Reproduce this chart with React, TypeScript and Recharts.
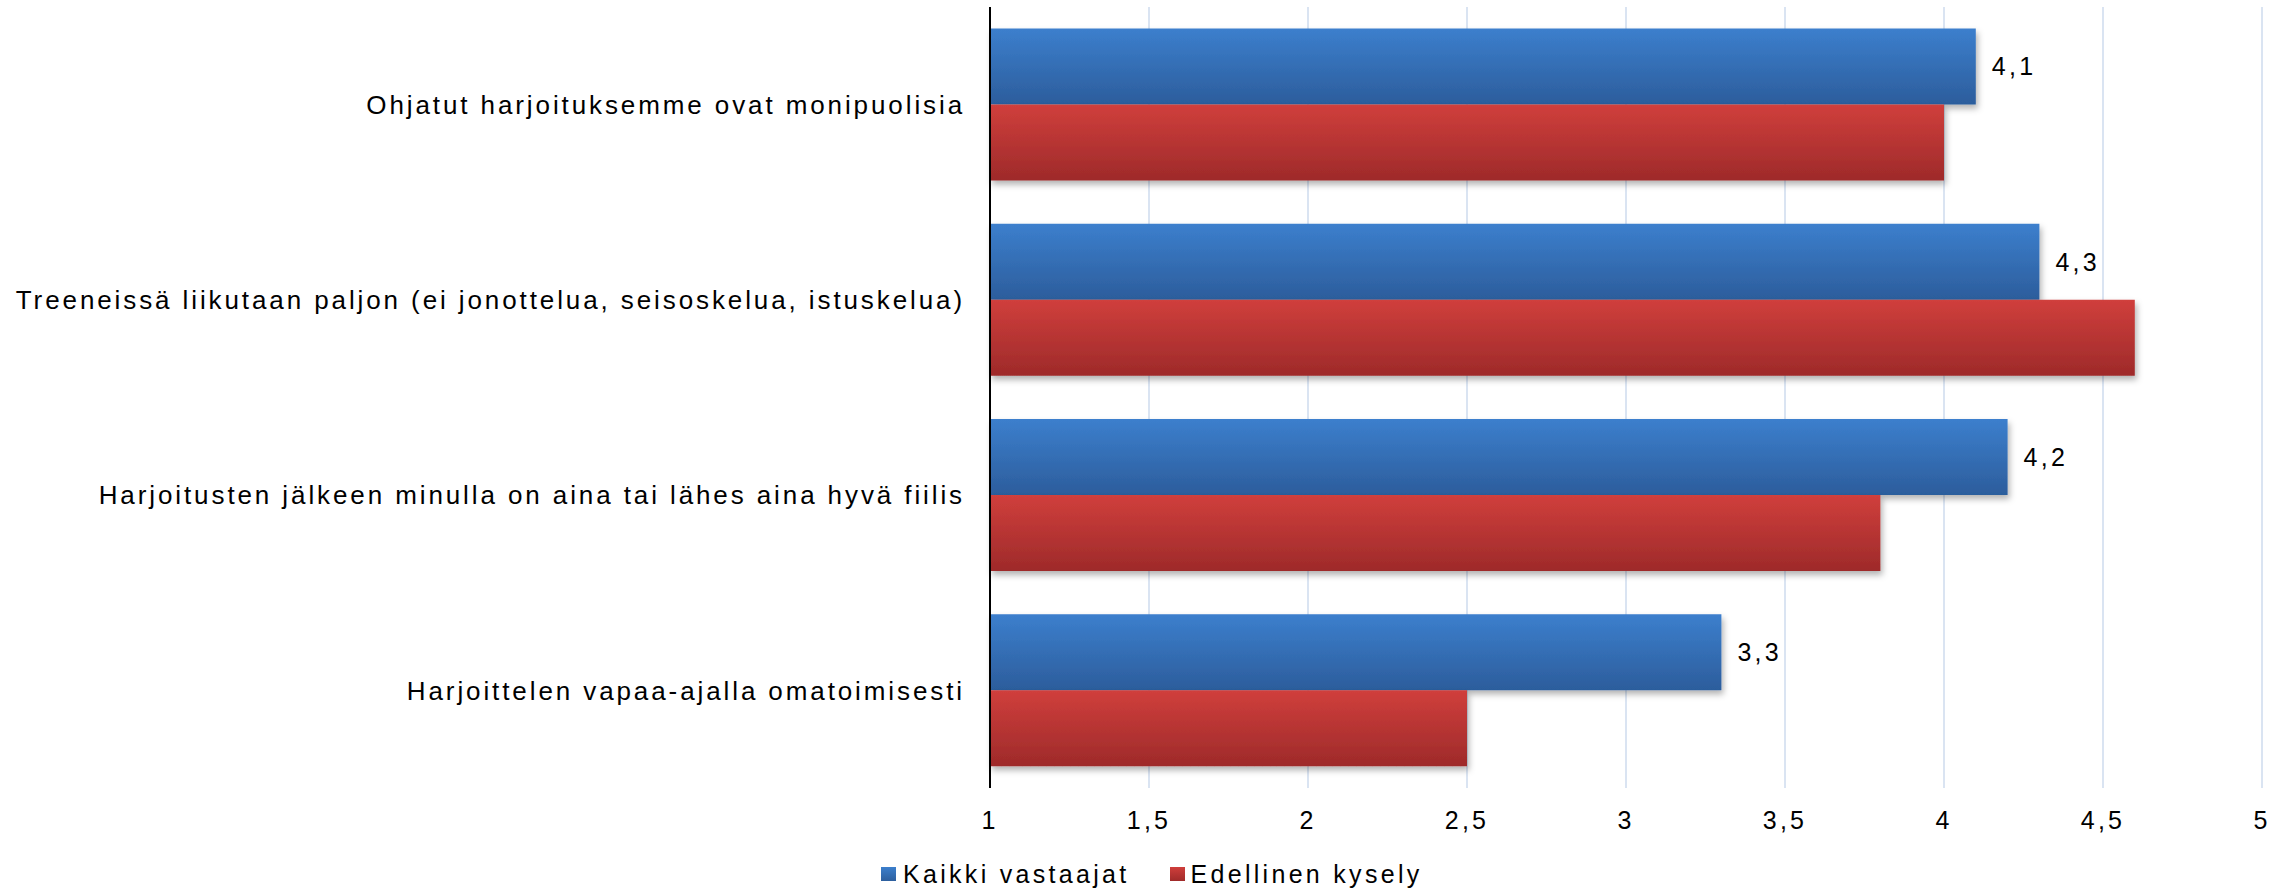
import React from 'react';
import { BarChart, Bar, XAxis, YAxis, CartesianGrid, Legend, LabelList } from 'recharts';

const categories = [
  'Ohjatut harjoituksemme ovat monipuolisia',
  'Treeneissä liikutaan paljon (ei jonottelua, seisoskelua, istuskelua)',
  'Harjoitusten jälkeen minulla on aina tai lähes aina hyvä fiilis',
  'Harjoittelen vapaa-ajalla omatoimisesti',
];
const kaikkiVastaajat = [4.1, 4.3, 4.2, 3.3];
const edellinenKysely = [4.0, 4.6, 3.8, 2.5];
const xTicks = [1, 1.5, 2, 2.5, 3, 3.5, 4, 4.5, 5];
const seriesNames = ['Kaikki vastaajat', 'Edellinen kysely'];

const data = categories.map((c, i) => ({
  name: c,
  kaikki: kaikkiVastaajat[i],
  edellinen: edellinenKysely[i],
}));

const FONT = '"Liberation Sans", Arial, sans-serif';
const FS = 25;
const LS = 3.3;
const fmt = (v: number) => String(v).replace('.', ',');

const LegendContent = () => (
  <div style={{ display: 'flex', alignItems: 'center', fontFamily: FONT, fontSize: FS, letterSpacing: LS, color: '#000', height: 30, whiteSpace: 'nowrap' }}>
    <span style={{ display: 'inline-block', width: 15, height: 14, background: 'linear-gradient(#3C7FCC, #2D5F9E)', marginRight: 7 }} />
    <span style={{ marginRight: 40 }}>{seriesNames[0]}</span>
    <span style={{ display: 'inline-block', width: 15, height: 14, background: 'linear-gradient(#CF3E3B, #A02B2A)', marginRight: 6 }} />
    <span>{seriesNames[1]}</span>
  </div>
);

export default function App() {
  return (
    <div style={{ position: 'absolute', left: 0, top: 0 }}>
      <BarChart
        width={2292}
        height={892}
        data={data}
        layout="vertical"
        margin={{ top: 7, right: 30, bottom: 2, left: 0 }}
        barCategoryGap="11%"
        barGap={0}
      >
        <defs>
          <linearGradient id="gBlue" x1="0" y1="0" x2="0" y2="1">
            <stop offset="0%" stopColor="#3C7FCD" />
            <stop offset="100%" stopColor="#2C5D9C" />
          </linearGradient>
          <linearGradient id="gRed" x1="0" y1="0" x2="0" y2="1">
            <stop offset="0%" stopColor="#D03F3C" />
            <stop offset="100%" stopColor="#9E2A2A" />
          </linearGradient>
          <filter id="shadow" x="-5%" y="-20%" width="115%" height="150%">
            <feDropShadow dx="2" dy="4" stdDeviation="3" floodColor="#000" floodOpacity="0.3" />
          </filter>
        </defs>
        <CartesianGrid horizontal={false} stroke="#DAE4F2" strokeWidth={2} />
        <XAxis
          type="number"
          domain={[1, 5]}
          ticks={xTicks}
          tickFormatter={fmt}
          axisLine={false}
          tickLine={false}
          tickSize={0}
          tickMargin={23}
          height={72}
          interval={0}
          tick={{ fill: '#000', fontSize: FS, fontFamily: FONT, letterSpacing: LS }}
        />
        <YAxis
          type="category"
          dataKey="name"
          width={990}
          axisLine={{ stroke: '#000', strokeWidth: 2 }}
          tickLine={false}
          tickSize={0}
          tickMargin={25}
          interval={0}
          tick={{ fill: '#000', fontSize: 26, fontFamily: FONT, letterSpacing: 2.9 }}
        />
        <Legend
          verticalAlign="bottom"
          content={<LegendContent />}
          wrapperStyle={{ left: 881, bottom: 3, width: 'auto' }}
        />
        <Bar dataKey="kaikki" name={seriesNames[0]} fill="url(#gBlue)" filter="url(#shadow)" isAnimationActive={false}>
          <LabelList dataKey="kaikki" position="right" offset={16} formatter={fmt as any} style={{ fill: '#000', fontSize: FS, fontFamily: FONT, letterSpacing: LS }} />
        </Bar>
        <Bar dataKey="edellinen" name={seriesNames[1]} fill="url(#gRed)" filter="url(#shadow)" isAnimationActive={false} />
      </BarChart>
    </div>
  );
}
